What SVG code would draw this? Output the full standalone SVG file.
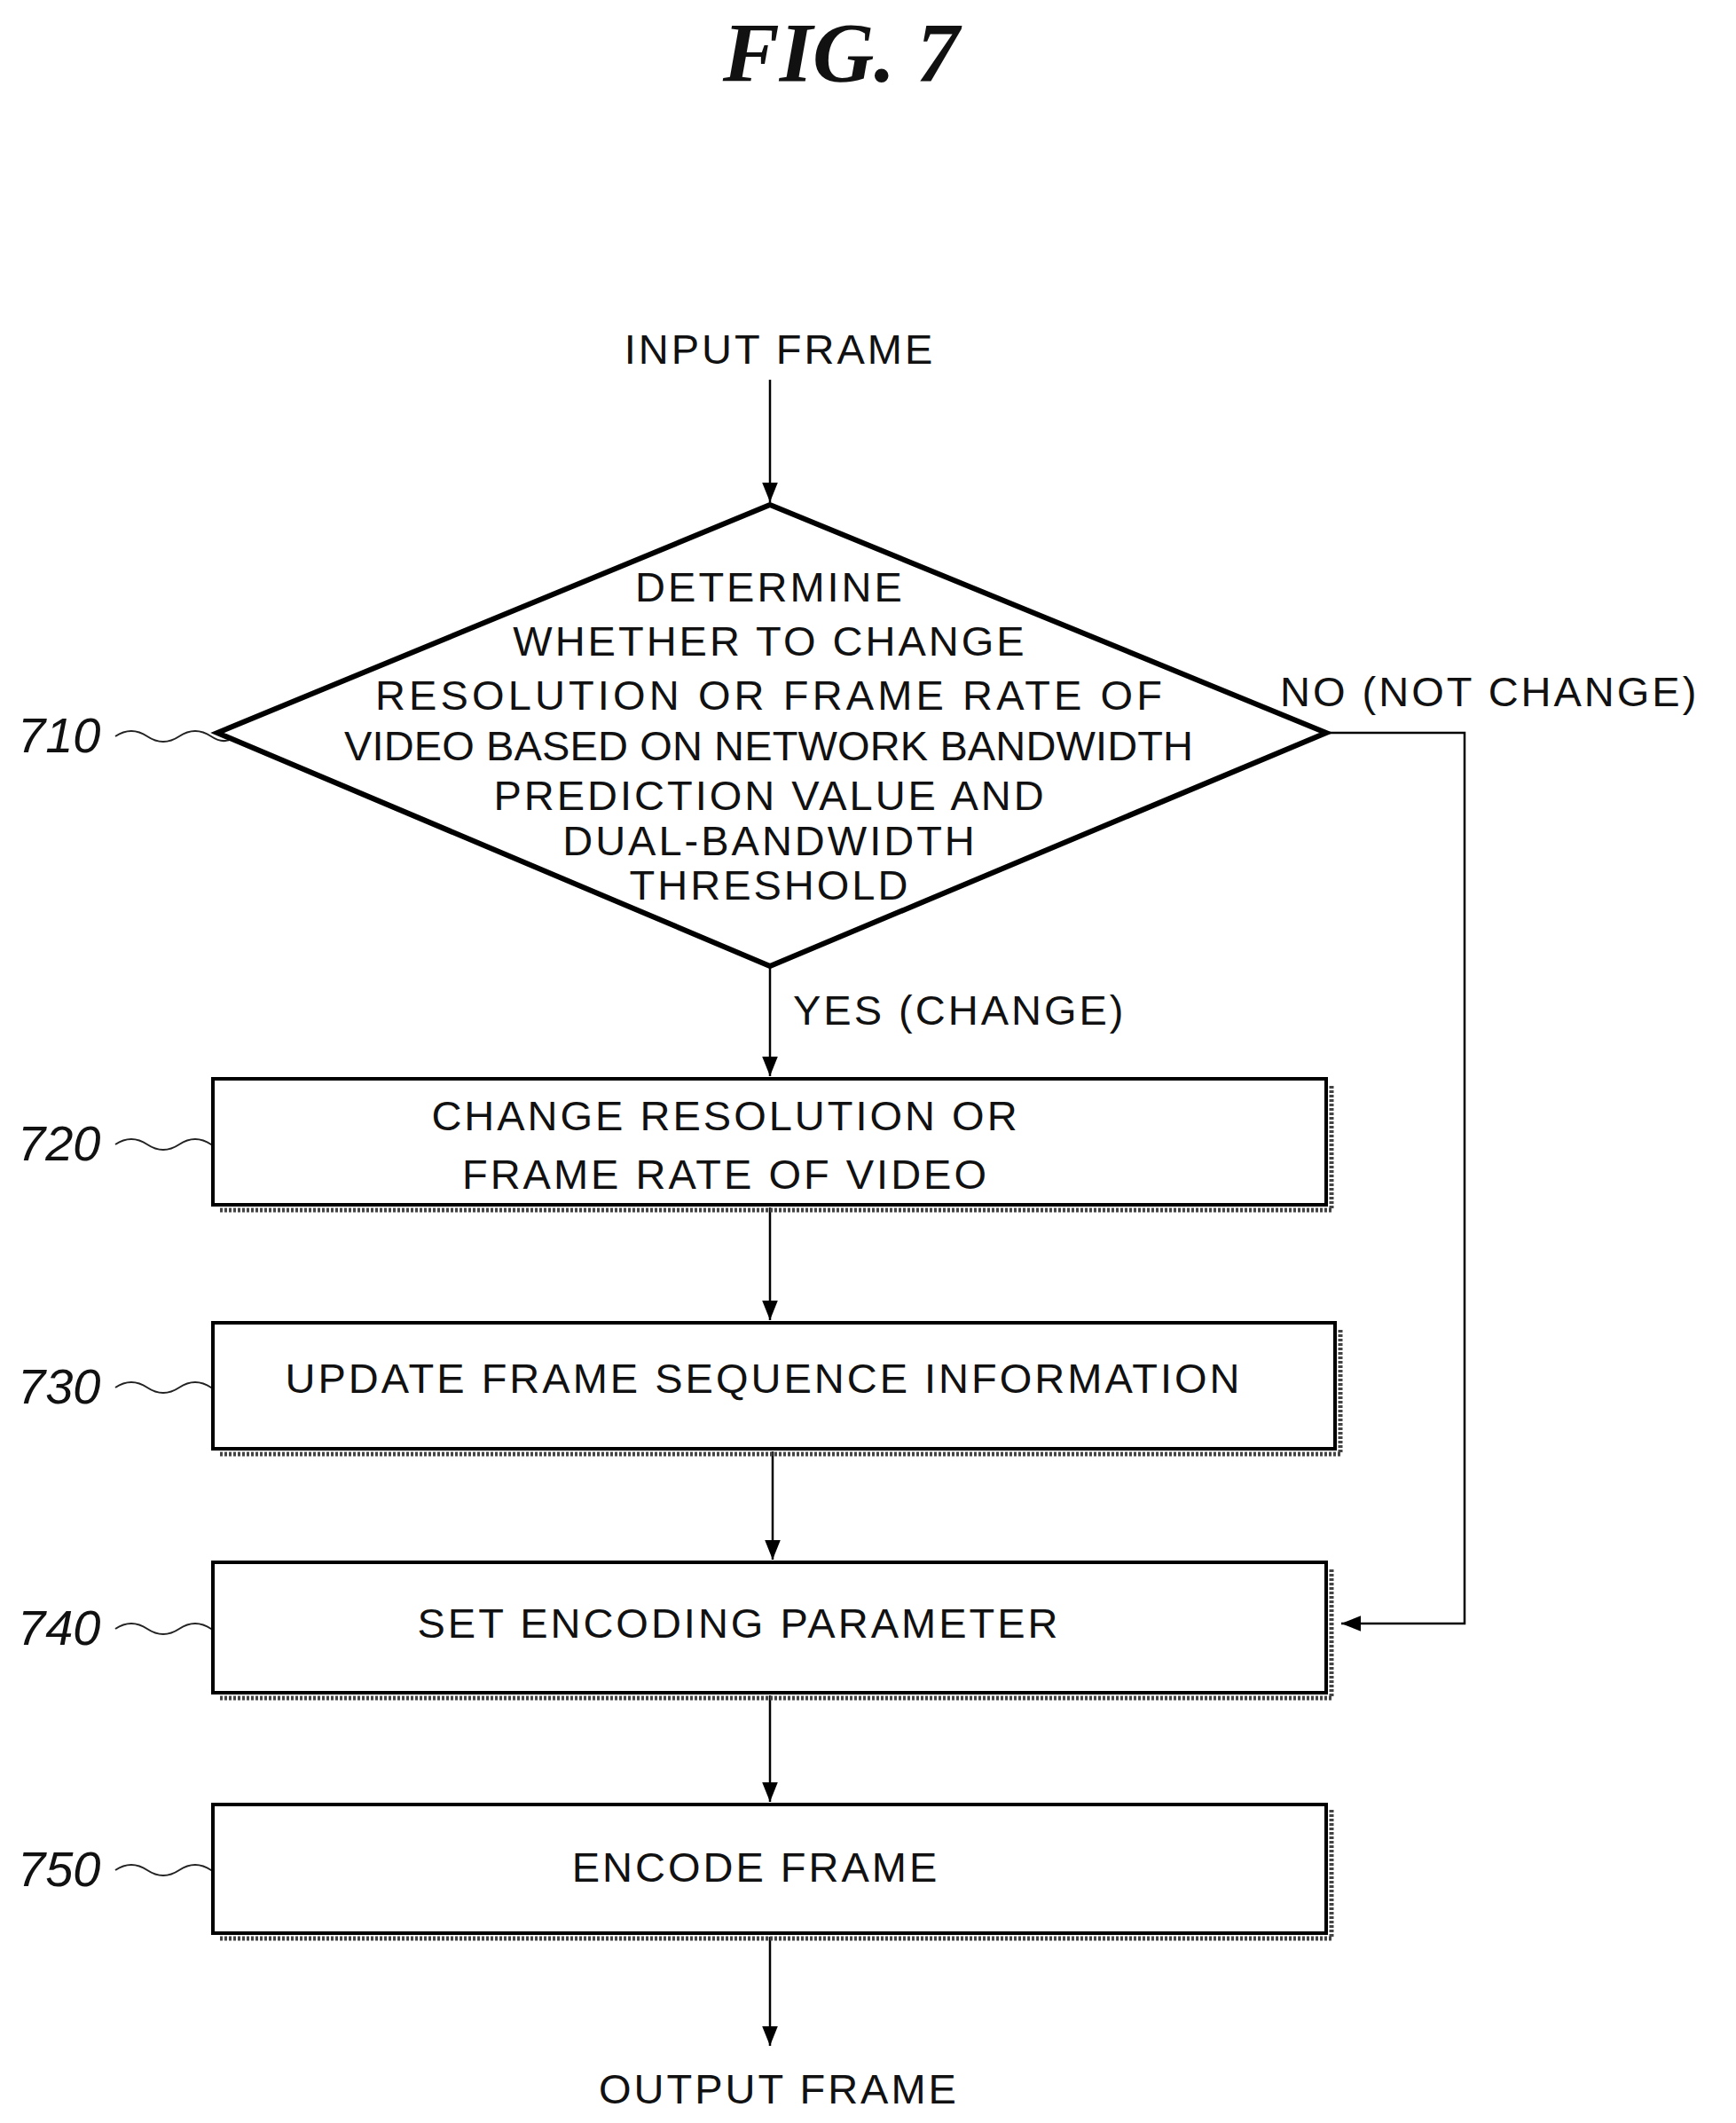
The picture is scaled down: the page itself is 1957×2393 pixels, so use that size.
<svg xmlns="http://www.w3.org/2000/svg" width="1957" height="2393" viewBox="0 0 1957 2393">
<defs>
<marker id="ah2" viewBox="0 0 10 10" refX="10" refY="5" markerWidth="22" markerHeight="22" markerUnits="userSpaceOnUse" orient="auto"><path d="M0,1 L10,5 L0,9 z" fill="#000"/></marker>
</defs>
<style>
text{font-family:"Liberation Sans",Arial,sans-serif;font-size:47px;fill:#111;letter-spacing:3px}
.c{text-anchor:middle}
.n{font-style:italic;font-size:56px;letter-spacing:0}
.box{fill:#fff;stroke:#000;stroke-width:4}
.dia{fill:#fff;stroke:#000;stroke-width:6}
.sh{fill:none;stroke:#444;stroke-width:5;stroke-dasharray:3 2}
.ln{fill:none;stroke:#000;stroke-width:2.5}
.tl{fill:none;stroke:#222;stroke-width:2}
</style>
<rect width="1957" height="2393" fill="#fff"/>
<text x="948" y="92" class="c" style="font-family:'Liberation Serif',serif;font-weight:bold;font-style:italic;font-size:96px;letter-spacing:0">FIG. 7</text>
<text x="879" y="410" class="c">INPUT FRAME</text>
<g id="connectors">
<line class="ln" x1="868" y1="428" x2="868" y2="566" marker-end="url(#ah2)"/>
<line class="ln" x1="868" y1="1089" x2="868" y2="1213" marker-end="url(#ah2)"/>
<line class="ln" x1="868" y1="1361" x2="868" y2="1488" marker-end="url(#ah2)"/>
<line class="ln" x1="871" y1="1636" x2="871" y2="1758" marker-end="url(#ah2)"/>
<line class="ln" x1="868" y1="1911" x2="868" y2="2031" marker-end="url(#ah2)"/>
<line class="ln" x1="868" y1="2183" x2="868" y2="2306" marker-end="url(#ah2)"/>
<polyline class="ln" points="1495,826 1651,826 1651,1830 1512,1830" marker-end="url(#ah2)"/>
<path class="tl" d="M130,830 q18,-12 36,0 t36,0 t36,0 t30,-4"/>
<path class="tl" d="M130,1290 q18,-12 36,0 t36,0 t36,0 t30,-4"/>
<path class="tl" d="M130,1564 q18,-12 36,0 t36,0 t36,0 t30,-4"/>
<path class="tl" d="M130,1836 q18,-12 36,0 t36,0 t36,0 t30,-4"/>
<path class="tl" d="M130,2108 q18,-12 36,0 t36,0 t36,0 t30,-4"/>
</g>
<text x="894" y="1155">YES (CHANGE)</text>
<text x="1443" y="796">NO (NOT CHANGE)</text>
<g id="n710">
<polygon class="dia" points="868,569 1495,826 868,1089 245,826"/>
<text x="868" y="678" class="c">DETERMINE</text>
<text x="868" y="739" class="c">WHETHER TO CHANGE</text>
<text x="868" y="800" class="c" textLength="890">RESOLUTION OR FRAME RATE OF</text>
<text x="868" y="857" class="c" textLength="960">VIDEO BASED ON NETWORK BANDWIDTH</text>
<text x="868" y="913" class="c">PREDICTION VALUE AND</text>
<text x="868" y="964" class="c">DUAL-BANDWIDTH</text>
<text x="868" y="1014" class="c">THRESHOLD</text>
<text x="20" y="848" class="n">710</text>
</g>
<g id="n720">
<polyline class="sh" points="248,1364 1501,1364 1501,1222"/>
<rect class="box" x="240" y="1216" width="1255" height="142"/>
<text x="818" y="1274" class="c">CHANGE RESOLUTION OR</text>
<text x="818" y="1340" class="c">FRAME RATE OF VIDEO</text>
<text x="20" y="1308" class="n">720</text>
</g>
<g id="n730">
<polyline class="sh" points="248,1639 1511,1639 1511,1497"/>
<rect class="box" x="240" y="1491" width="1265" height="142"/>
<text x="861" y="1570" class="c">UPDATE FRAME SEQUENCE INFORMATION</text>
<text x="20" y="1582" class="n">730</text>
</g>
<g id="n740">
<polyline class="sh" points="248,1914 1501,1914 1501,1767"/>
<rect class="box" x="240" y="1761" width="1255" height="147"/>
<text x="833" y="1846" class="c">SET ENCODING PARAMETER</text>
<text x="20" y="1854" class="n">740</text>
</g>
<g id="n750">
<polyline class="sh" points="248,2185 1501,2185 1501,2040"/>
<rect class="box" x="240" y="2034" width="1255" height="145"/>
<text x="852" y="2121" class="c">ENCODE FRAME</text>
<text x="20" y="2126" class="n">750</text>
</g>
<text x="878" y="2371" class="c">OUTPUT FRAME</text>
</svg>
